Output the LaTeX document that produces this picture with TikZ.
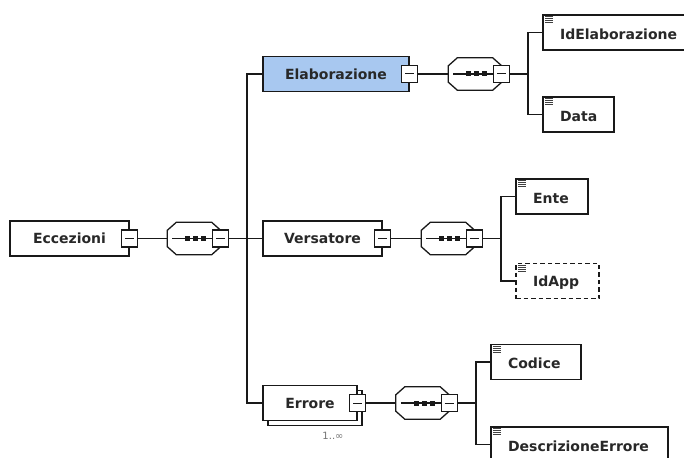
\documentclass[tikz,border=0pt]{standalone}
\usepackage{fontspec}
\setmainfont{DejaVu Sans}
\definecolor{elabblue}{RGB}{168,200,240}
\definecolor{txt}{RGB}{40,40,40}
\definecolor{lnc}{RGB}{25,25,25}
\newcommand{\minusat}[2]{%
  \node[minusbox] (#1) at (#2) {};
  \draw[lnc, line width=1pt] ([xshift=-4.5pt]#1.center) -- ([xshift=4.5pt]#1.center);}
\newcommand{\seqat}[3]{%
  \node[seqbox] (#1) at (#2,#3) {};
  \draw[ln, fill=white] ([xshift=9pt]#1.north west) -- ([xshift=-9pt]#1.north east) -- ([yshift=-8pt]#1.north east) -- ([yshift=8pt]#1.south east) -- ([xshift=-9pt]#1.south east) -- ([xshift=9pt]#1.south west) -- ([yshift=8pt]#1.south west) -- ([yshift=-8pt]#1.north west) -- cycle;
  \draw[conn] ([xshift=5pt]#1.west) -- (#1.east);
  \foreach \d in {-6.5,1.5,9.5} {\fill[lnc] ([xshift=\d pt]#1.center) +(-2.5pt,-2.5pt) rectangle +(2.5pt,2.5pt);}
  \minusat{#1-m}{#1.east}}
\newcommand{\leafat}[6]{%
  \node[leaf, minimum width=#4pt, #6] (#1) at (#2,#3) {};
  \foreach \k in {0,...,3} {\draw[line width=1pt, black!75] ([xshift=2.5pt, yshift={-2.5pt-2pt*\k}]#1.north west) -- ++(8pt,0pt);}
  \node[leaftext] (#1-t) at ([xshift=17.5pt, yshift=-1.5pt]#1.west) {#5};}
\begin{document}
\begin{tikzpicture}[x=1pt,y=-1pt,
  ln/.style={draw=lnc, line width=1.3pt},
  conn/.style={draw=lnc, line width=1.3pt},
  elem/.style={ln, fill=white, minimum height=35pt, inner sep=0pt, font=\fontsize{14}{16}\selectfont\bfseries, text=txt},
  leaf/.style={ln, fill=white, minimum height=35pt, inner sep=0pt},
  leaftext/.style={anchor=west, inner sep=0pt, font=\fontsize{14}{16}\selectfont\bfseries, text=txt},
  minusbox/.style={ln, fill=white, minimum width=16pt, minimum height=17pt, inner sep=0pt},
  seqbox/.style={minimum width=53pt, minimum height=32pt, inner sep=0pt},
  dashbox/.style={dash pattern=on 4.5pt off 3pt}
]
\useasboundingbox (0,0) rectangle (684,457);
\fill[white] (0,0) rectangle (684,457);
\clip (0,0) rectangle (684,457);

% root
\node[elem, minimum width=119pt] (ecc) at (69.5,238.5) {Eccezioni};
\minusat{ecc-m}{ecc.east}
\seqat{s1}{194}{238.5}
\coordinate (b1) at (247,238.5);

% level 1
\node[elem, fill=elabblue, minimum width=146pt] (elab) at (336,74) {Elaborazione};
\minusat{elab-m}{elab.east}
\node[elem, minimum width=119pt] (vers) at (322.5,238.5) {Versatore};
\minusat{vers-m}{vers.east}
\node[elem, minimum width=94pt] (errb) at (315,408) {};
\node[elem, minimum width=94pt] (err) at (310,403) {Errore};
\minusat{err-m}{err.east}
\node[inner sep=0pt, font=\fontsize{10}{12}\selectfont, text=black!55] (card) at (333,436) {1..∞};

% sequences
\seqat{s2}{475}{74}
\coordinate (b2) at (528,74);
\seqat{s3}{448}{238.5}
\coordinate (b3) at (501,238.5);
\seqat{s4}{422.5}{403}
\coordinate (b4) at (476,403);

% leaves
\leafat{ide}{618}{32.5}{150}{IdElaborazione}{}
\leafat{data}{578.5}{114.5}{71}{Data}{}
\leafat{ente}{552}{196.5}{72}{Ente}{}
\leafat{idapp}{557.5}{281}{83}{IdApp}{dashbox}
\leafat{cod}{536}{362}{90}{Codice}{}
\leafat{descr}{579.5}{444.5}{177}{DescrizioneErrore}{}

% connectors
\draw[conn] (ecc-m.east) -- (s1.west);
\draw[conn] (s1-m.east) -- (b1);
\draw[conn] (b1) |- (elab.west);
\draw[conn] (b1) -- (vers.west);
\draw[conn] (b1) |- (err.west);

\draw[conn] (elab-m.east) -- (s2.west);
\draw[conn] (s2-m.east) -- (b2);
\draw[conn] (b2) |- (ide.west);
\draw[conn] (b2) |- (data.west);

\draw[conn] (vers-m.east) -- (s3.west);
\draw[conn] (s3-m.east) -- (b3);
\draw[conn] (b3) |- (ente.west);
\draw[conn] (b3) |- (idapp.west);

\draw[conn] (err-m.east) -- (s4.west);
\draw[conn] (s4-m.east) -- (b4);
\draw[conn] (b4) |- (cod.west);
\draw[conn] (b4) |- (descr.west);
\end{tikzpicture}
\end{document}
